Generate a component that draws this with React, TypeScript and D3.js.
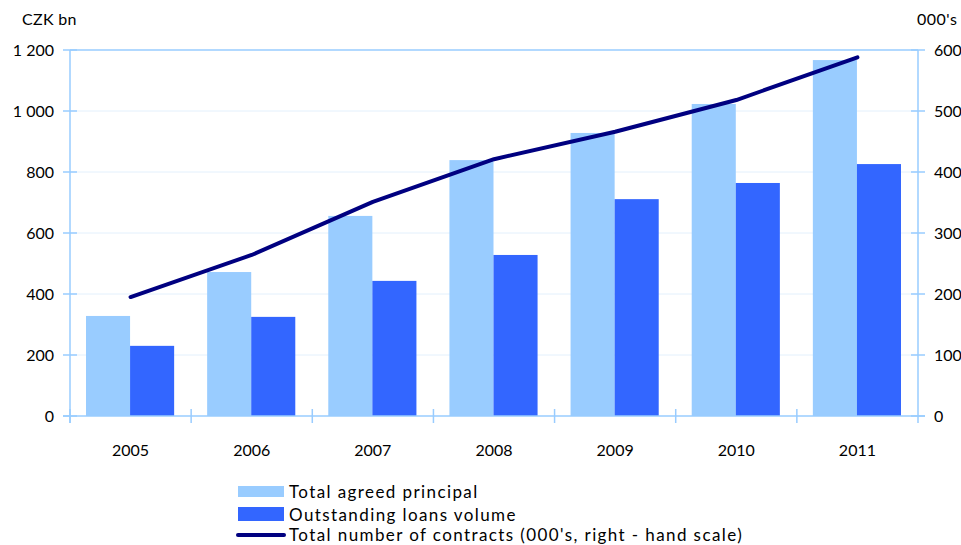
import { useEffect, useRef } from 'react';
import * as d3 from 'd3';

const years = ['2005', '2006', '2007', '2008', '2009', '2010', '2011'];
const agreedPrincipal = [328, 472, 656, 839, 928, 1023, 1167];
const outstandingLoans = [230, 325, 443, 528, 711, 764, 826];
const contracts = [195, 264, 351, 421, 466, 518, 588];
const leftTicks = [0, 200, 400, 600, 800, 1000, 1200];
const rightTicks = [0, 100, 200, 300, 400, 500, 600];

const App = () => {
  const ref = useRef<SVGSVGElement>(null);

  useEffect(() => {
    const svg = d3.select(ref.current);
    svg.selectAll('*').remove();

    const left = 70, right = 918, top = 50, bottom = 416;
    const font = 'Lato, "Open Sans", sans-serif';
    const axisColor = '#99ccff';

    const x = d3.scaleBand().domain(years).range([left, right]).paddingInner(0).paddingOuter(0);
    const yL = d3.scaleLinear().domain([0, 1200]).range([bottom, top]);
    const yR = d3.scaleLinear().domain([0, 600]).range([bottom, top]);
    const inner = d3.scaleBand().domain(['a', 'b']).range([16, x.bandwidth() - 17]);

    // gridlines
    svg.append('g')
      .selectAll('line')
      .data(leftTicks.slice(1))
      .enter()
      .append('line')
      .attr('x1', left).attr('x2', right)
      .attr('y1', (d) => yL(d)).attr('y2', (d) => yL(d))
      .attr('stroke', (d) => (d === 1200 ? axisColor : '#e3f0fc'))
      .attr('stroke-width', (d) => (d === 1200 ? 1.5 : 1));

    // bars
    const groups = svg.append('g').selectAll('g').data(years).enter().append('g')
      .attr('transform', (d) => `translate(${x(d)},0)`);
    groups.append('rect')
      .attr('x', inner('a')!)
      .attr('width', inner.bandwidth())
      .attr('y', (_, i) => yL(agreedPrincipal[i]))
      .attr('height', (_, i) => bottom - yL(agreedPrincipal[i]))
      .attr('fill', '#99ccff');
    groups.append('rect')
      .attr('x', inner('b')!)
      .attr('width', inner.bandwidth())
      .attr('y', (_, i) => yL(outstandingLoans[i]))
      .attr('height', (_, i) => bottom - yL(outstandingLoans[i]))
      .attr('fill', '#3366ff');

    // axes lines
    const ax = svg.append('g').attr('stroke', axisColor).attr('stroke-width', 1.5);
    ax.append('line').attr('x1', left).attr('x2', left).attr('y1', top).attr('y2', bottom + 7);
    ax.append('line').attr('x1', right).attr('x2', right).attr('y1', top).attr('y2', bottom + 7);
    ax.append('line').attr('x1', left - 7).attr('x2', right + 7).attr('y1', bottom).attr('y2', bottom);
    leftTicks.forEach((t) => {
      ax.append('line').attr('x1', left - 7).attr('x2', left + 7).attr('y1', yL(t)).attr('y2', yL(t));
    });
    rightTicks.forEach((t) => {
      ax.append('line').attr('x1', right - 7).attr('x2', right + 7).attr('y1', yR(t)).attr('y2', yR(t));
    });
    years.forEach((yr) => {
      const xx = x(yr)!;
      ax.append('line').attr('x1', xx).attr('x2', xx).attr('y1', bottom - 7).attr('y2', bottom + 7);
    });

    // tick labels
    const fmt = (v: number) => d3.format(',')(v).replace(',', ' ');
    svg.append('g').selectAll('text').data(leftTicks).enter().append('text')
      .attr('x', 54).attr('y', (d) => yL(d) + 6)
      .attr('text-anchor', 'end').style('font-family', font).style('font-size', '16px')
      .text((d) => fmt(d));
    svg.append('g').selectAll('text').data(rightTicks).enter().append('text')
      .attr('x', 934).attr('y', (d) => yR(d) + 6)
      .style('font-family', font).style('font-size', '16px')
      .text((d) => d);
    svg.append('g').selectAll('text').data(years).enter().append('text')
      .attr('x', (d) => x(d)! + x.bandwidth() / 2).attr('y', 456)
      .attr('text-anchor', 'middle').style('font-family', font).style('font-size', '16px')
      .text((d) => d);

    svg.append('text').attr('x', 22).attr('y', 25)
      .style('font-family', font).style('font-size', '16px').style('letter-spacing', '0.3px').text('CZK bn');
    svg.append('text').attr('x', 917).attr('y', 25)
      .style('font-family', font).style('font-size', '16px').style('letter-spacing', '0.5px').text("000's");

    // line
    const line = d3.line<number>()
      .x((_, i) => x(years[i])! + x.bandwidth() / 2)
      .y((d) => yR(d));
    svg.append('path').datum(contracts)
      .attr('d', line)
      .attr('fill', 'none').attr('stroke', '#000080').attr('stroke-width', 4)
      .attr('stroke-linecap', 'round').attr('stroke-linejoin', 'round');

    // legend
    const lg = svg.append('g').style('font-family', font).style('font-size', '17px')
      .style('letter-spacing', '1.4px');
    lg.append('rect').attr('x', 238).attr('y', 486).attr('width', 46).attr('height', 11).attr('fill', '#99ccff');
    lg.append('text').attr('x', 289).attr('y', 498).text('Total agreed principal');
    lg.append('rect').attr('x', 238).attr('y', 507).attr('width', 46).attr('height', 14).attr('fill', '#3366ff');
    lg.append('text').attr('x', 289).attr('y', 521).text('Outstanding loans volume');
    lg.append('line').attr('x1', 238).attr('x2', 284).attr('y1', 535).attr('y2', 535)
      .attr('stroke', '#000080').attr('stroke-width', 4).attr('stroke-linecap', 'round');
    lg.append('text').attr('x', 289).attr('y', 541).text("Total number of contracts (000's, right - hand scale)");
  }, []);

  return <svg ref={ref} width={961} height={545} style={{ position: 'absolute', left: 0, top: 0 }} />;
};

export default App;
